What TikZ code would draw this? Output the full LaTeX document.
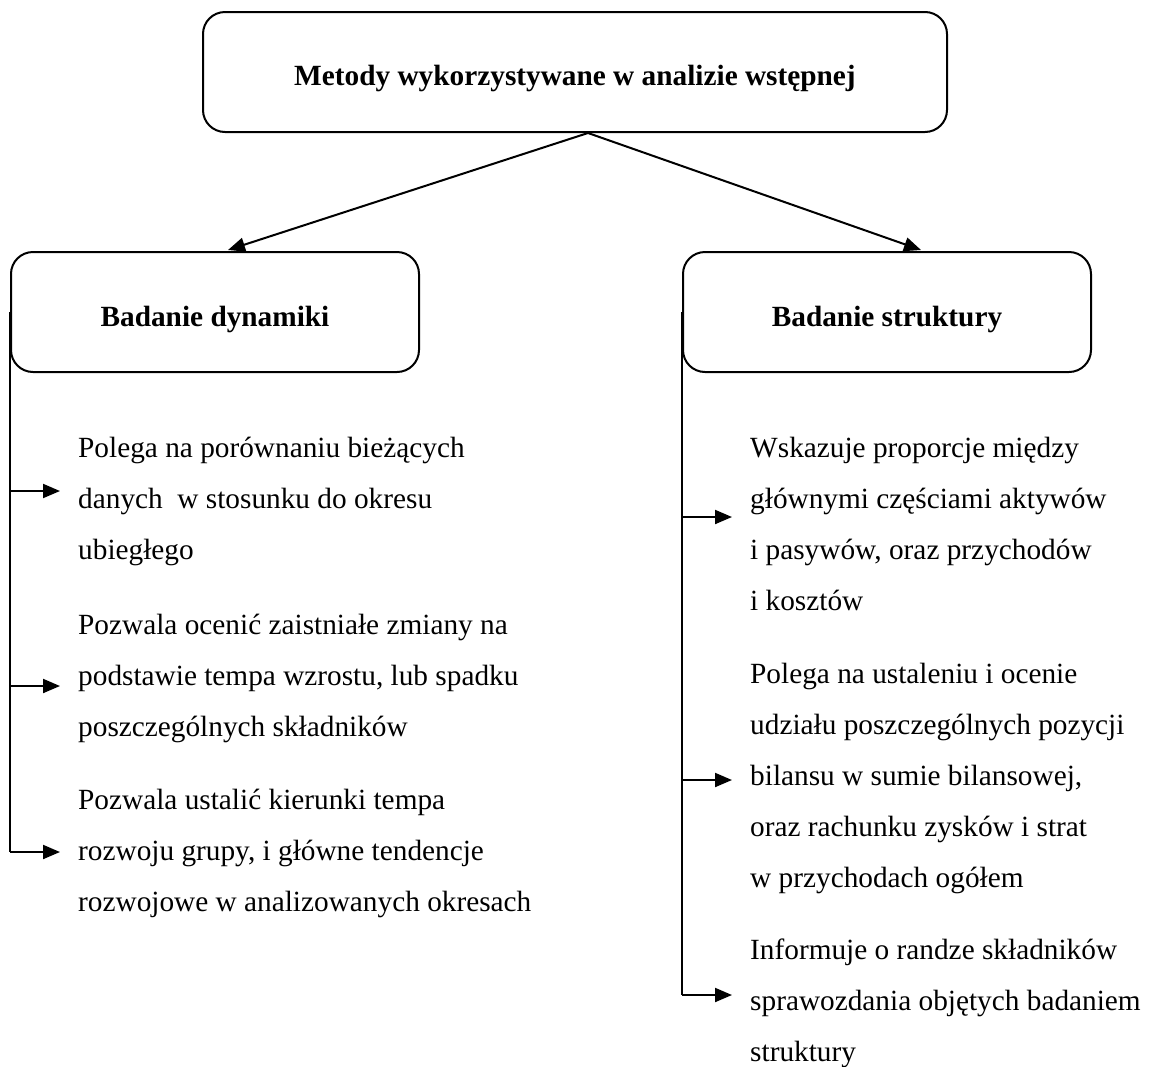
\documentclass[tikz,border=0pt]{standalone}
\usepackage{fontspec}
\setmainfont{Liberation Serif}
\usetikzlibrary{arrows.meta,calc}
\newcommand{\boxlabel}[2]{\raisebox{-#1}[0pt][0pt]{#2}}
\begin{document}
\begin{tikzpicture}[x=1pt,y=-1pt,
  box/.style={draw,line width=2pt,rounded corners=22pt,align=center,
    inner sep=0pt,font=\bfseries\fontsize{29.3}{35}\selectfont},
  desc/.style={anchor=north west,align=left,inner sep=0pt,
    font=\fontsize{29.3}{51}\selectfont},
  trunk/.style={line width=2pt},
  link/.style={line width=2pt,-{Triangle[length=17pt,width=14pt]}},
]
\useasboundingbox (0,0) rectangle (1149,1066);

% boxes (label baselines lowered below the box centre)
\node[box,minimum width=744pt,minimum height=120pt] (top) at (575,72)
  {\boxlabel{13pt}{Metody wykorzystywane w analizie wstępnej}};
\node[box,minimum width=408pt,minimum height=120pt] (dyn) at (215,312)
  {\boxlabel{14pt}{Badanie dynamiki}};
\node[box,minimum width=408pt,minimum height=120pt] (str) at (887,312)
  {\boxlabel{14pt}{Badanie struktury}};

% top-level connectors
\coordinate (fork) at ($(top.south)+(13,0)$);
\draw[link] (fork) -- ($(dyn.north)+(13,-1)$);
\draw[link] (fork) -- ($(str.north)+(34,-1)$);

% descriptions: dynamics
\node[desc] (d1) at (78,437) {Polega na porównaniu bieżących\\danych\ \ w stosunku do okresu\\ubiegłego};
\node[desc] (d2) at (78,614) {Pozwala ocenić zaistniałe zmiany na\\podstawie tempa wzrostu, lub spadku\\poszczególnych składników};
\node[desc] (d3) at (78,789) {Pozwala ustalić kierunki tempa\\rozwoju grupy, i główne tendencje\\rozwojowe w analizowanych okresach};

% descriptions: structure
\node[desc] (s1) at (750,437) {Wskazuje proporcje między\\głównymi częściami aktywów\\i pasywów, oraz przychodów\\i kosztów};
\node[desc] (s2) at (750,663) {Polega na ustaleniu i ocenie\\udziału poszczególnych pozycji\\bilansu w sumie bilansowej,\\oraz rachunku zysków i strat\\w przychodach ogółem};
\node[desc] (s3) at (750,939) {Informuje o randze składników\\sprawozdania objętych badaniem\\struktury};

% arrow ends beside the descriptions
\coordinate (ad1) at (60,491);
\coordinate (ad2) at (60,686);
\coordinate (ad3) at (60,852);
\coordinate (as1) at (732,517);
\coordinate (as2) at (732,780);
\coordinate (as3) at (732,995);

% left trunk
\draw[trunk] (dyn.west) -- (dyn.west |- ad3);
\draw[link] (dyn.west |- ad1) -- (ad1);
\draw[link] (dyn.west |- ad2) -- (ad2);
\draw[link] (dyn.west |- ad3) -- (ad3);

% right trunk
\draw[trunk] (str.west) -- (str.west |- as3);
\draw[link] (str.west |- as1) -- (as1);
\draw[link] (str.west |- as2) -- (as2);
\draw[link] (str.west |- as3) -- (as3);
\end{tikzpicture}
\end{document}
